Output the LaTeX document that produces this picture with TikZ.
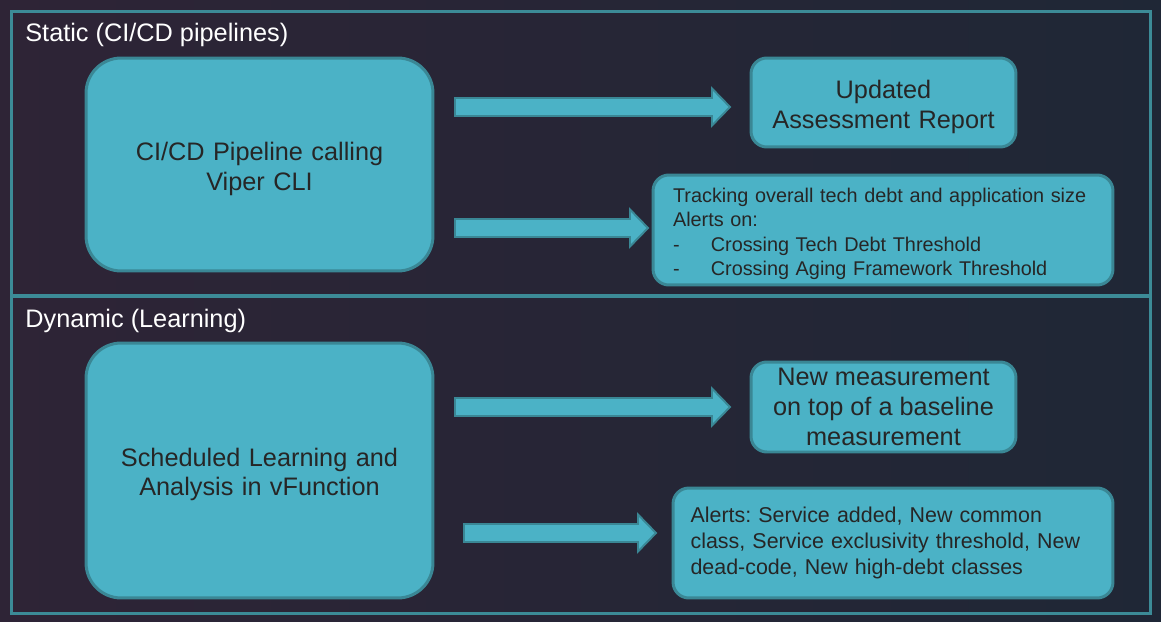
\documentclass[tikz,border=0pt]{standalone}
\usepackage{fontspec}
\setmainfont{Liberation Sans}
\usetikzlibrary{calc}
\frenchspacing

\definecolor{bgleft}{HTML}{2E2436}
\definecolor{bgright}{HTML}{1F2736}
\definecolor{frameline}{HTML}{3C8B97}
\definecolor{boxfill}{HTML}{4BB2C6}
\definecolor{boxline}{HTML}{3A8795}
\definecolor{boxtext}{HTML}{262626}

\newcommand{\bigfont}{\fontsize{14.4}{17}\selectfont}
\newcommand{\smallfont}{\fontsize{11.3}{13.9}\selectfont}
\newcommand{\alertfont}{\fontsize{12.2}{15}\selectfont}

% block arrow from #1 to the tip #2 (same height)
\newcommand{\blockarrow}[2]{%
  \filldraw[arrowbody] ($(#1)+(0,-9)$) -- ($(#2)+(-18,-9)$) -- ($(#2)+(-18,-18.5)$)
    -- (#2) -- ($(#2)+(-18,18.5)$) -- ($(#2)+(-18,9)$) -- ($(#1)+(0,9)$) -- cycle;}

\begin{document}
\begin{tikzpicture}[x=0.02cm,y=-0.02cm,
    frame/.style={draw=frameline,line width=1.7pt,inner sep=0pt,minimum width=22.8cm},
    bigbox/.style={draw=boxline,line width=1.7pt,fill=boxfill,rounded corners=20pt,
      inner sep=0pt,text=boxtext,font=\bigfont,align=center,minimum width=6.94cm,
      text width=6.5cm},
    smallbox/.style={draw=boxline,line width=1.7pt,fill=boxfill,rounded corners=9pt,
      inner sep=0pt,text=boxtext,font=\bigfont,align=center},
    notebox/.style={smallbox,align=left,minimum height=2.2cm},
    lower/.style={execute at begin node={\rule{0pt}{#1}}},
    section/.style={anchor=west,text=white,font=\bigfont,inner sep=0pt},
    arrowbody/.style={fill=boxfill,draw=boxline,line width=1.1pt}]
  \useasboundingbox (0,0) rectangle (1161,622);
  \shade[left color=bgleft,right color=bgright] (0,0) rectangle (1161,622);

  % the two sections
  \node[frame,minimum height=5.7cm] (static) at (581,153.5) {};
  \node[frame,minimum height=6.36cm] (dynamic) at (581,455) {};
  \node[section] (statlbl) at (25,35) {Static (CI/CD pipelines)};
  \node[section] (dynlbl) at (25,321) {Dynamic (Learning)};

  % static
  \node[bigbox,lower=16pt,minimum height=4.26cm] (ci) at (259.5,164.5)
    {CI/CD Pipeline calling\\Viper CLI};
  \node[smallbox,lower=16pt,text width=5cm,minimum width=5.3cm,minimum height=1.78cm]
    (report) at (883.5,102.5) {Updated\\Assessment Report};
  \node[notebox,lower=12.8pt,font=\smallfont,text width=8.4cm,minimum width=9.2cm] (track) at (883,230)
    {Tracking overall tech debt and application size\\
     Alerts on:\\
     \makebox[21.5pt][l]{-}Crossing Tech Debt Threshold\\
     \makebox[21.5pt][l]{-}Crossing Aging Framework Threshold};

  % dynamic
  \node[bigbox,lower=15pt,minimum height=5.1cm] (learn) at (259.5,470.5)
    {Scheduled Learning and\\Analysis in vFunction};
  \node[smallbox,minimum width=5.3cm,minimum height=1.8cm] (measure) at (883.5,407)
    {New measurement\\on top of a baseline\\measurement};
  \node[notebox,font=\alertfont,text width=8.1cm,minimum width=8.8cm] (alerts) at (893,543)
    {Alerts: Service added, New common\\
     class, Service exclusivity threshold, New\\
     dead-code, New high-debt classes};

  % arrows
  \coordinate (a1s) at (455,107);
  \coordinate (a1e) at (730,107);
  \coordinate (a2s) at (455,228);
  \coordinate (a2e) at (648,228);
  \coordinate (a3s) at (455,407);
  \coordinate (a3e) at (730,407);
  \coordinate (a4s) at (464,533);
  \coordinate (a4e) at (656,533);
  \blockarrow{a1s}{a1e}
  \blockarrow{a2s}{a2e}
  \blockarrow{a3s}{a3e}
  \blockarrow{a4s}{a4e}
\end{tikzpicture}
\end{document}
